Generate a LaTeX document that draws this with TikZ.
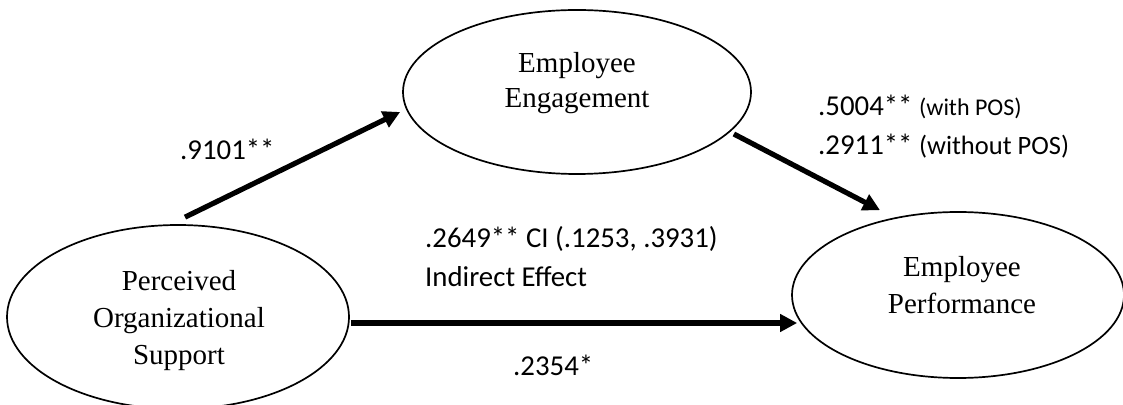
\documentclass[tikz,border=0pt]{standalone}
\usepackage{fontspec}
\setmainfont{Liberation Serif}
\newfontfamily\calibri{Carlito}
\usetikzlibrary{shapes.geometric,arrows.meta}
\begin{document}
\begin{tikzpicture}[x=1pt,y=1pt,
  construct/.style={draw, ellipse, line width=1.7pt, inner sep=0pt},
  ctext/.style={align=center, font=\fontsize{29}{37}\selectfont, inner sep=0pt},
  path/.style={line width=5.2pt, -{Triangle[length=17pt,width=17pt]}},
  coef/.style={anchor=base west, inner sep=0pt, font=\calibri\fontsize{28.8}{34}\selectfont}]
\useasboundingbox (0,0) rectangle (1123,404);
% constructs
\node[construct, minimum width=342pt, minimum height=184pt] (pos) at (178,87) {};
\node[construct, minimum width=348pt, minimum height=164pt] (ee) at (577,312) {};
\node[construct, minimum width=332pt, minimum height=166pt] (ep) at (958,109) {};
\node[ctext] (postxt) at (179,83.5) {Perceived\\Organizational\\Support};
\node[ctext, font=\fontsize{29}{35}\selectfont] (eetxt) at (577,321) {Employee\\Engagement};
\node[ctext] (eptxt) at (962,119) {Employee\\Performance};
% paths
\coordinate (a1s) at ([shift={(7,7)}]pos.north);
\coordinate (a1e) at ([shift={(-2,-20)}]ee.west);
\draw[path] (a1s) -- (a1e);
\coordinate (a2s) at ([shift={(1,-6)}]pos.east);
\coordinate (a2e) at ([shift={(6,-28)}]ep.west);
\draw[path] (a2s) -- (a2e);
\coordinate (a3s) at ([shift={(-18,-42)}]ee.east);
\coordinate (a3e) at ([shift={(-78,1)}]ep.north);
\draw[path] (a3s) -- (a3e);
% coefficients
\node[coef] (c1) at (180,244) {.9101**};
\node[coef] (c2) at (425,156) {.2649** CI (.1253, .3931)};
\node[coef] (c3) at (425,117) {Indirect Effect};
\node[coef] (c4) at (513,29) {.2354*};
\node[coef] (c5) at (818,288) {.5004** {\fontsize{24}{28}\selectfont(with POS)}};
\node[coef] (c6) at (818,249) {.2911** {\fontsize{26.5}{30}\selectfont(without POS)}};
\end{tikzpicture}
\end{document}
